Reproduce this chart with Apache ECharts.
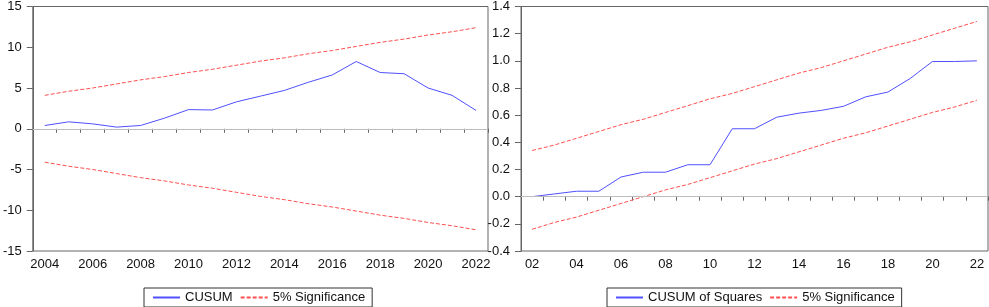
<!DOCTYPE html>
<html>
<head>
<meta charset="utf-8">
<script src="https://cdn.jsdelivr.net/npm/echarts@6/dist/echarts.min.js"></script>
<style>html,body{margin:0;padding:0;background:#fff}#c{width:989px;height:307px}</style>
</head>
<body>
<div id="c"></div>
<script>
// ---- Data ----
var yearsLeft = ['2004','2005','2006','2007','2008','2009','2010','2011','2012','2013','2014','2015','2016','2017','2018','2019','2020','2021','2022'];
var cusum = [0.4, 0.85, 0.6, 0.2, 0.4, 1.3, 2.35, 2.3, 3.3, 4.0, 4.7, 5.7, 6.6, 8.25, 6.9, 6.75, 5.0, 4.1, 2.25];
var cusumUpper = [4.1, 4.6, 5.0, 5.5, 6.0, 6.4, 6.9, 7.3, 7.8, 8.3, 8.7, 9.2, 9.6, 10.1, 10.6, 11.0, 11.5, 11.9, 12.4];
var cusumLower = [-4.1, -4.6, -5.0, -5.5, -6.0, -6.4, -6.9, -7.3, -7.8, -8.3, -8.7, -9.2, -9.6, -10.1, -10.6, -11.0, -11.5, -11.9, -12.4];

var yearsRight = ['02','03','04','05','06','07','08','09','10','11','12','13','14','15','16','17','18','19','20','21','22'];
var cusumSq = [0.0, 0.02, 0.04, 0.04, 0.145, 0.18, 0.18, 0.235, 0.235, 0.5, 0.5, 0.585, 0.615, 0.635, 0.665, 0.735, 0.77, 0.87, 0.995, 0.995, 1.0];
var sqUpper = [0.34, 0.38, 0.43, 0.48, 0.53, 0.57, 0.62, 0.67, 0.72, 0.76, 0.81, 0.86, 0.91, 0.95, 1.00, 1.05, 1.10, 1.14, 1.19, 1.24, 1.29];
var sqLower = [-0.24, -0.19, -0.15, -0.10, -0.05, 0.0, 0.05, 0.09, 0.14, 0.19, 0.24, 0.28, 0.33, 0.38, 0.43, 0.47, 0.52, 0.57, 0.62, 0.66, 0.71];

var leftTicks = {min: -15, max: 15, interval: 5};
var rightTicks = {min: -0.4, max: 1.4, interval: 0.2};

// ---- Styles ----
var FONT = 'Liberation Sans, Arial, sans-serif';
var AX = '#666666';
var BLUE = '#5050ff';
var RED = '#ff4f4f';

function xAxis(idx, data) {
  return {
    type: 'category', gridIndex: idx, data: data, boundaryGap: true,
    axisLine: {show: true, lineStyle: {color: AX, width: 1}},
    axisTick: {show: true, interval: 0, length: 4, lineStyle: {color: AX}},
    axisLabel: {interval: 1, color: '#111', fontFamily: FONT, fontSize: 13, margin: 7},
    splitLine: {show: false}
  };
}
function yAxis(idx, t, fmt) {
  return {
    type: 'value', gridIndex: idx, min: t.min, max: t.max, interval: t.interval,
    axisLine: {show: true, lineStyle: {color: AX, width: 1}},
    axisTick: {show: true, length: 6, lineStyle: {color: AX}},
    axisLabel: {color: '#111', fontFamily: FONT, fontSize: 13, margin: 11, formatter: fmt},
    splitLine: {show: false}
  };
}
var zeroLine = {
  silent: true, symbol: 'none', label: {show: false},
  lineStyle: {color: '#bdbdbd', type: 'solid', width: 1},
  data: [{yAxis: 0}], animation: false
};
function line(name, xi, yi, data, color, dashed, mark) {
  var s = {
    name: name, type: 'line', xAxisIndex: xi, yAxisIndex: yi, data: data,
    symbol: 'none', showSymbol: false, animation: false,
    lineStyle: {color: color, width: 1, type: dashed ? [4, 2] : 'solid'},
    itemStyle: {color: color}
  };
  if (mark) s.markLine = zeroLine;
  return s;
}
function legend(left, names) {
  return {
    left: left, bottom: 0, height: 20, padding: [3, 7, 3, 8], itemGap: 7, itemWidth: 27, itemHeight: 10,
    borderColor: '#333', borderWidth: 1, borderRadius: 0,
    itemStyle: {opacity: 0},
    textStyle: {fontFamily: FONT, fontSize: 13, color: '#111'},
    data: names
  };
}

var chart = echarts.init(document.getElementById('c'), null, {renderer: 'canvas'});
chart.setOption({
  animation: false,
  backgroundColor: '#fff',
  grid: [
    {left: 29, right: 501, top: 6, bottom: 56, show: true, borderColor: AX, borderWidth: 1, containLabel: false},
    {left: 521, right: 1, top: 6, bottom: 56, show: true, borderColor: AX, borderWidth: 1, containLabel: false}
  ],
  xAxis: [xAxis(0, yearsLeft), xAxis(1, yearsRight)],
  yAxis: [yAxis(0, leftTicks, function (v) { return String(v); }),
          yAxis(1, rightTicks, function (v) { return v.toFixed(1); })],
  legend: [legend(144, ['CUSUM', '5% Significance']),
           legend(607, ['CUSUM of Squares', '5% Significance'])],
  series: [
    line('CUSUM', 0, 0, cusum, BLUE, false, true),
    line('5% Significance', 0, 0, cusumUpper, RED, true),
    line('5% Significance', 0, 0, cusumLower, RED, true),
    line('CUSUM of Squares', 1, 1, cusumSq, BLUE, false, true),
    line('5% Significance', 1, 1, sqUpper, RED, true),
    line('5% Significance', 1, 1, sqLower, RED, true)
  ]
});
</script>
</body>
</html>
